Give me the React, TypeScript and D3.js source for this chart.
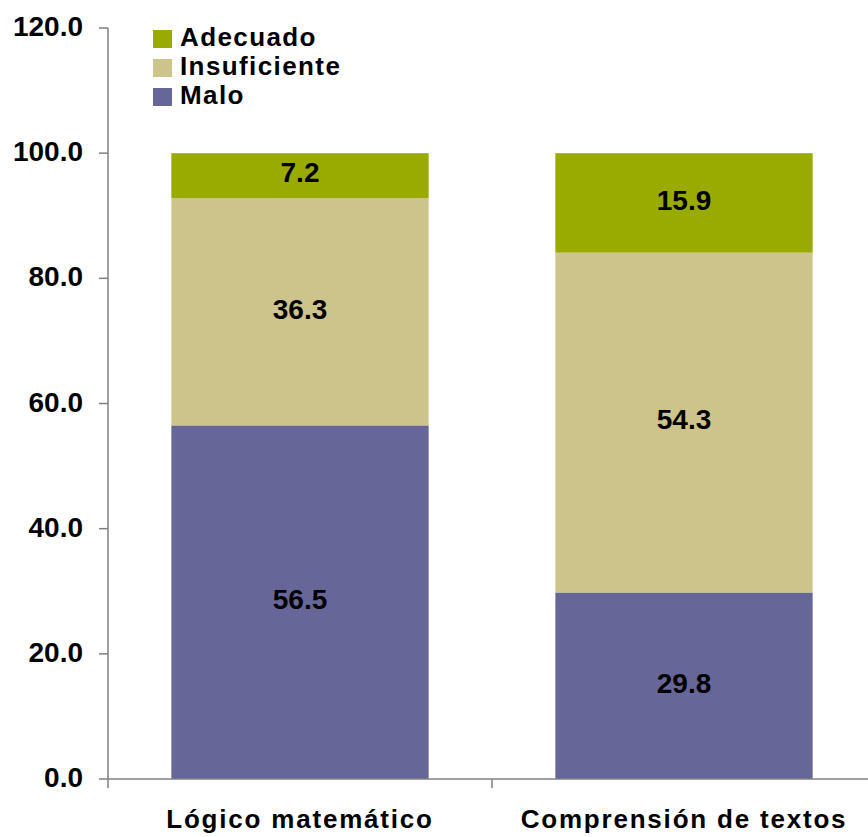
import React from "react";
import * as d3 from "d3";

const categories = ["Lógico matemático", "Comprensión de textos"];
const seriesNames = ["Malo", "Insuficiente", "Adecuado"];
const malo = [56.5, 29.8];
const insuficiente = [36.3, 54.3];
const adecuado = [7.2, 15.9];
const yTicks = [0, 20, 40, 60, 80, 100, 120];
const colors: Record<string, string> = {
  Malo: "#666699",
  Insuficiente: "#CCC48A",
  Adecuado: "#99AA00",
};
const legendOrder = ["Adecuado", "Insuficiente", "Malo"];

const W = 868;
const H = 837;
const FONT = "'Liberation Sans', Arial, Helvetica, sans-serif";

export default function App() {
  const x = d3
    .scaleBand<string>()
    .domain(categories)
    .range([108, 876])
    .paddingInner(0.33)
    .paddingOuter(0.165);
  const y = d3.scaleLinear().domain([0, 120]).range([779, 28]);

  const rows = categories.map((c, i) => ({
    cat: c,
    Malo: malo[i],
    Insuficiente: insuficiente[i],
    Adecuado: adecuado[i],
  }));
  const stack = d3.stack<any>().keys(seriesNames);
  const series = stack(rows);

  const axisColor = "#808080";

  return (
    <svg
      width={W}
      height={H}
      style={{ position: "absolute", left: 0, top: 0, background: "#fff" }}
      fontFamily={FONT}
      fontWeight="bold"
    >
      {/* bars */}
      {series.map((s) =>
        s.map((d, i) => {
          const x0 = x(categories[i])!;
          const y0 = y(d[1]);
          const y1 = y(d[0]);
          return (
            <g key={s.key + i}>
              <rect
                x={x0}
                y={y0}
                width={x.bandwidth()}
                height={y1 - y0}
                fill={colors[s.key]}
              />
              <text
                x={x0 + x.bandwidth() / 2}
                y={(y0 + y1) / 2 - 3}
                dy="0.35em"
                textAnchor="middle"
                fontSize={28}
                fill="#000"
              >
                {(d[1] - d[0]).toFixed(1)}
              </text>
            </g>
          );
        })
      )}

      {/* y axis */}
      <line x1={108} x2={108} y1={y(120)} y2={y(0)} stroke={axisColor} strokeWidth={1.5} />
      {yTicks.map((t) => (
        <g key={t}>
          <line x1={99} x2={108} y1={y(t)} y2={y(t)} stroke={axisColor} strokeWidth={1.5} />
          <text x={83} y={y(t) + 8} textAnchor="end" fontSize={28} fill="#000">
            {t.toFixed(1)}
          </text>
        </g>
      ))}

      {/* x axis */}
      <line x1={108} x2={876} y1={y(0)} y2={y(0)} stroke={axisColor} strokeWidth={1.5} />
      {[0, 1, 2].map((k) => {
        const xx = 108 + k * x.step();
        return (
          <line key={k} x1={xx} x2={xx} y1={y(0)} y2={y(0) + 9} stroke={axisColor} strokeWidth={1.5} />
        );
      })}
      {categories.map((c) => (
        <text
          key={c}
          x={x(c)! + x.bandwidth() / 2}
          y={828}
          textAnchor="middle"
          fontSize={26}
          letterSpacing={1.8}
          fill="#000"
        >
          {c}
        </text>
      ))}

      {/* legend */}
      {legendOrder.map((k, i) => (
        <g key={k} transform={`translate(153, ${30 + i * 29})`}>
          <rect x={0} y={0} width={19} height={18} fill={colors[k]} />
          <text x={27} y={16} fontSize={26} letterSpacing={1.4} fill="#000">
            {k}
          </text>
        </g>
      ))}
    </svg>
  );
}
